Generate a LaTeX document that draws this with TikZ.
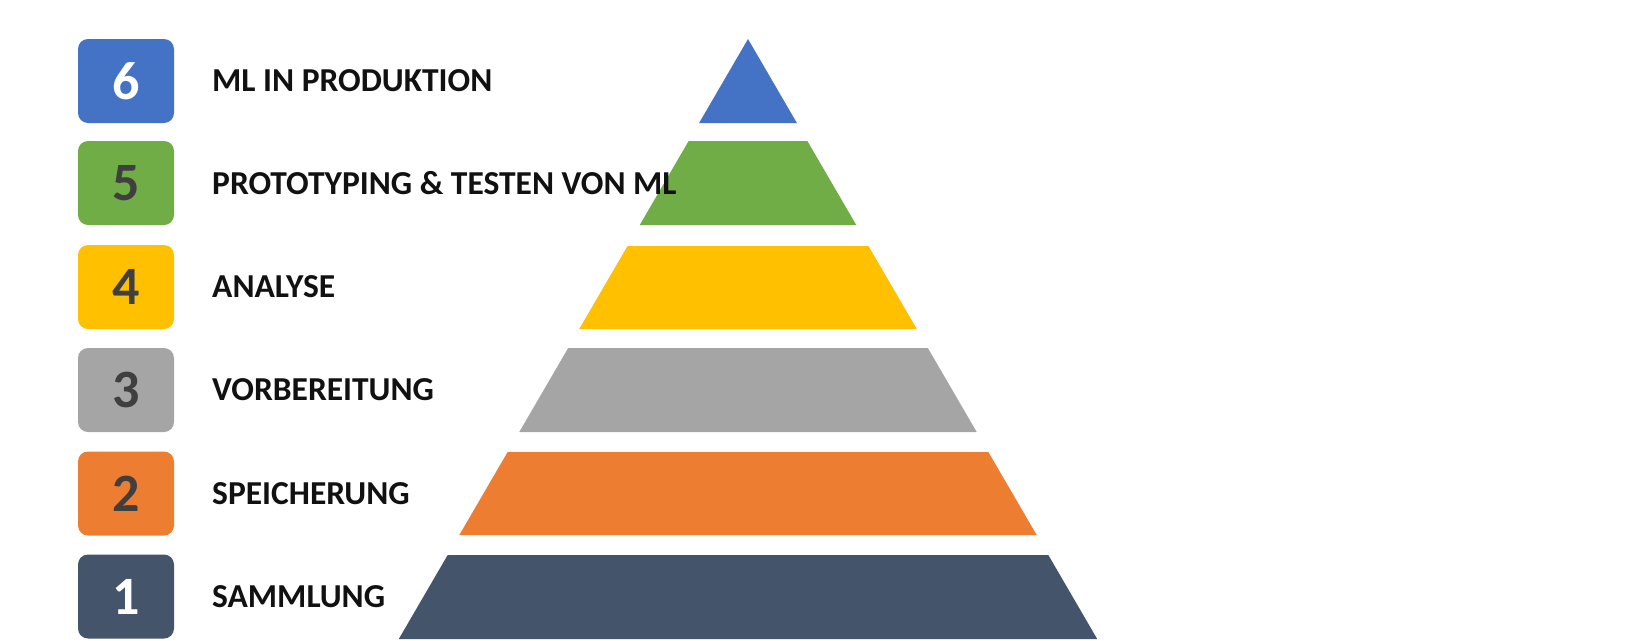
\documentclass[tikz,border=0pt]{standalone}
\usepackage{fontspec}
\setmainfont{Carlito}
\definecolor{cblue}{HTML}{4472C4}
\definecolor{cgreen}{HTML}{70AD47}
\definecolor{cyellow}{HTML}{FFC000}
\definecolor{cgray}{HTML}{A5A5A5}
\definecolor{corange}{HTML}{ED7D31}
\definecolor{cnavy}{HTML}{44546A}
\definecolor{numdark}{HTML}{3F3F3F}
\definecolor{labelblack}{HTML}{111111}
\begin{document}
\begin{tikzpicture}[x=1pt,y=-1pt,
  numbox/.style={rounded corners=10pt, minimum width=96pt, minimum height=84pt, inner sep=0pt,
    font=\fontsize{54}{64}\selectfont\bfseries},
  lvlabel/.style={anchor=west, inner sep=0pt, text=labelblack, font=\fontsize{33.5}{40}\selectfont\bfseries}]
\useasboundingbox (0,0) rectangle (1648,640);
\fill[white] (0,0) rectangle (1648,640);
% pyramid: apex (748,39), slope 0.582
\def\cx{748}\def\ay{39}\def\sl{0.582}
\newcommand{\pband}[3]{%
  \fill[#3] ({\cx-\sl*(#1-\ay)},#1) -- ({\cx+\sl*(#1-\ay)},#1) -- ({\cx+\sl*(#2-\ay)},#2) -- ({\cx-\sl*(#2-\ay)},#2) -- cycle;}
\fill[cblue] (\cx,\ay) -- ({\cx+\sl*(123-\ay)},123) -- ({\cx-\sl*(123-\ay)},123) -- cycle;
\pband{141}{225}{cgreen}
\pband{246}{329}{cyellow}
\pband{348}{432}{cgray}
\pband{452}{535}{corange}
\pband{555}{639}{cnavy}
% number boxes
\node[numbox, fill=cblue, text=white] (b6) at (126,81) {6};
\node[numbox, fill=cgreen, text=numdark] (b5) at (126,183) {5};
\node[numbox, fill=cyellow, text=numdark] (b4) at (126,287) {4};
\node[numbox, fill=cgray, text=numdark] (b3) at (126,390) {3};
\node[numbox, fill=corange, text=numdark] (b2) at (126,493.5) {2};
\node[numbox, fill=cnavy, text=white] (b1) at (126,596.5) {1};
% labels
\node[lvlabel] (l6) at (212,81) {ML IN PRODUKTION};
\node[lvlabel] (l5) at (212,183) {PROTOTYPING \& TESTEN VON ML};
\node[lvlabel] (l4) at (212,287) {ANALYSE};
\node[lvlabel] (l3) at (212,390) {VORBEREITUNG};
\node[lvlabel] (l2) at (212,493.5) {SPEICHERUNG};
\node[lvlabel] (l1) at (212,596.5) {SAMMLUNG};
\end{tikzpicture}
\end{document}
